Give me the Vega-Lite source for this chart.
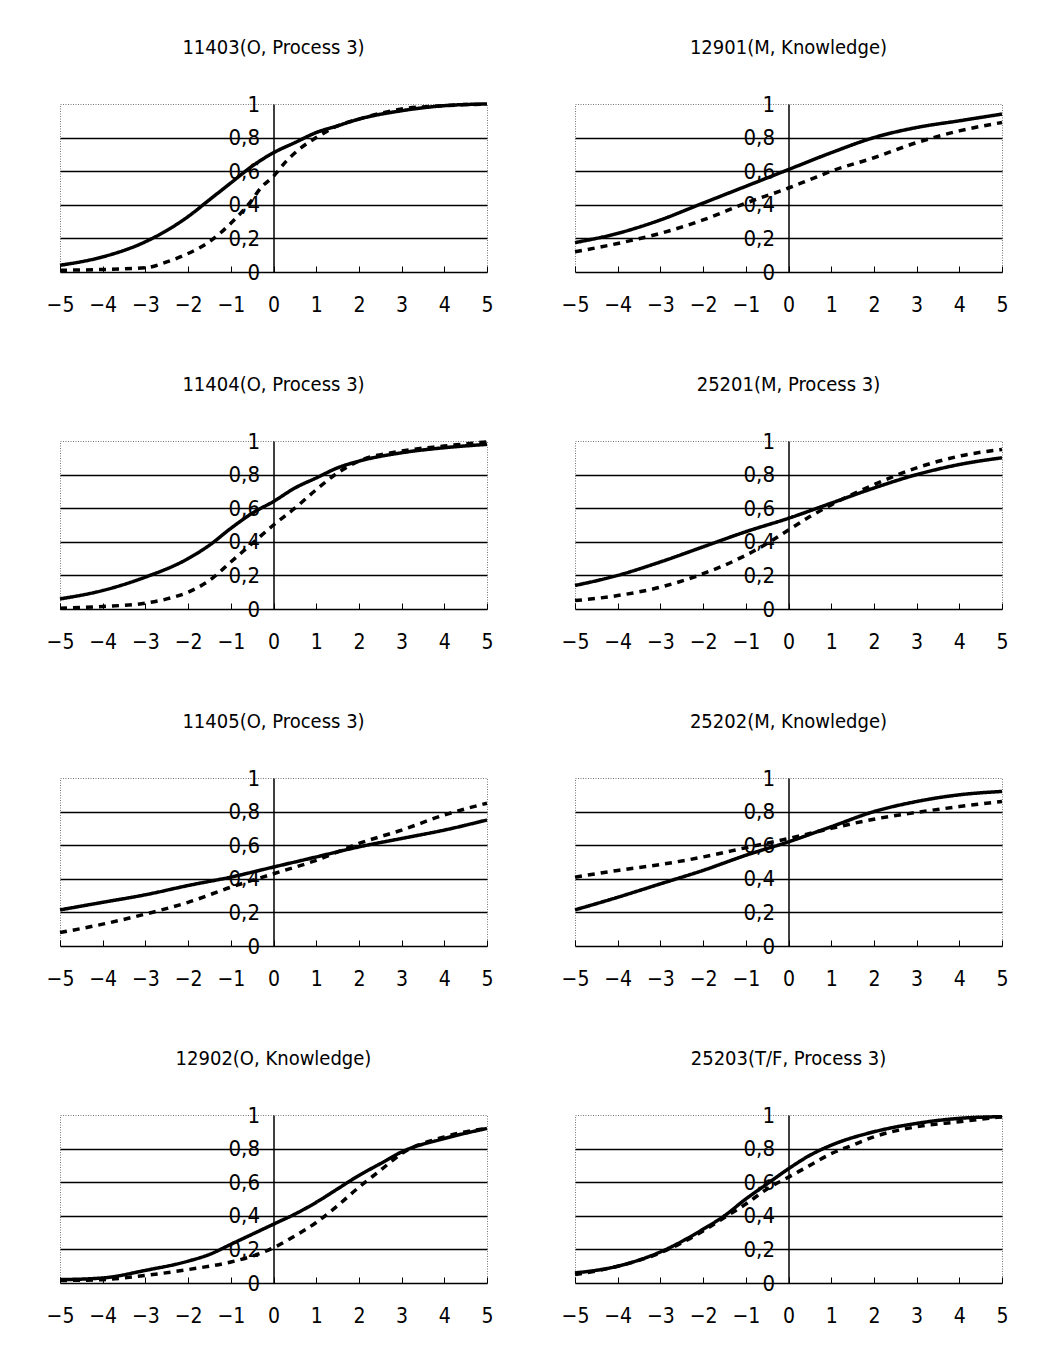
{
  "$schema": "https://vega.github.io/schema/vega-lite/v6.json",
  "background": "white",
  "padding": {"left": 45, "top": 37, "right": 20, "bottom": 20},
  "data": {"values": [
    {"p":"11403(O, Process 3)","s":"solid","x":-5,"y":0.04},{"p":"11403(O, Process 3)","s":"solid","x":-4,"y":0.09},{"p":"11403(O, Process 3)","s":"solid","x":-3,"y":0.18},{"p":"11403(O, Process 3)","s":"solid","x":-2,"y":0.33},{"p":"11403(O, Process 3)","s":"solid","x":-1.5,"y":0.43},{"p":"11403(O, Process 3)","s":"solid","x":-1,"y":0.53},{"p":"11403(O, Process 3)","s":"solid","x":-0.5,"y":0.63},{"p":"11403(O, Process 3)","s":"solid","x":0,"y":0.71},{"p":"11403(O, Process 3)","s":"solid","x":0.5,"y":0.77},{"p":"11403(O, Process 3)","s":"solid","x":1,"y":0.83},{"p":"11403(O, Process 3)","s":"solid","x":1.5,"y":0.87},{"p":"11403(O, Process 3)","s":"solid","x":2,"y":0.91},{"p":"11403(O, Process 3)","s":"solid","x":3,"y":0.96},{"p":"11403(O, Process 3)","s":"solid","x":4,"y":0.99},{"p":"11403(O, Process 3)","s":"solid","x":5,"y":1.0},
    {"p":"11403(O, Process 3)","s":"dashed","x":-5,"y":0.01},{"p":"11403(O, Process 3)","s":"dashed","x":-4,"y":0.015},{"p":"11403(O, Process 3)","s":"dashed","x":-3,"y":0.025},{"p":"11403(O, Process 3)","s":"dashed","x":-2.5,"y":0.06},{"p":"11403(O, Process 3)","s":"dashed","x":-2,"y":0.11},{"p":"11403(O, Process 3)","s":"dashed","x":-1.5,"y":0.18},{"p":"11403(O, Process 3)","s":"dashed","x":-1,"y":0.29},{"p":"11403(O, Process 3)","s":"dashed","x":-0.5,"y":0.43},{"p":"11403(O, Process 3)","s":"dashed","x":-0.3,"y":0.5},{"p":"11403(O, Process 3)","s":"dashed","x":0,"y":0.57},{"p":"11403(O, Process 3)","s":"dashed","x":0.3,"y":0.66},{"p":"11403(O, Process 3)","s":"dashed","x":0.6,"y":0.73},{"p":"11403(O, Process 3)","s":"dashed","x":1,"y":0.8},{"p":"11403(O, Process 3)","s":"dashed","x":1.5,"y":0.87},{"p":"11403(O, Process 3)","s":"dashed","x":2,"y":0.91},{"p":"11403(O, Process 3)","s":"dashed","x":3,"y":0.97},{"p":"11403(O, Process 3)","s":"dashed","x":4,"y":0.99},{"p":"11403(O, Process 3)","s":"dashed","x":5,"y":1.0},

    {"p":"12901(M, Knowledge)","s":"solid","x":-5,"y":0.175},{"p":"12901(M, Knowledge)","s":"solid","x":-4,"y":0.23},{"p":"12901(M, Knowledge)","s":"solid","x":-3,"y":0.31},{"p":"12901(M, Knowledge)","s":"solid","x":-2,"y":0.41},{"p":"12901(M, Knowledge)","s":"solid","x":-1,"y":0.51},{"p":"12901(M, Knowledge)","s":"solid","x":0,"y":0.61},{"p":"12901(M, Knowledge)","s":"solid","x":1,"y":0.71},{"p":"12901(M, Knowledge)","s":"solid","x":2,"y":0.8},{"p":"12901(M, Knowledge)","s":"solid","x":3,"y":0.86},{"p":"12901(M, Knowledge)","s":"solid","x":4,"y":0.9},{"p":"12901(M, Knowledge)","s":"solid","x":5,"y":0.94},
    {"p":"12901(M, Knowledge)","s":"dashed","x":-5,"y":0.12},{"p":"12901(M, Knowledge)","s":"dashed","x":-4,"y":0.17},{"p":"12901(M, Knowledge)","s":"dashed","x":-3,"y":0.23},{"p":"12901(M, Knowledge)","s":"dashed","x":-2,"y":0.31},{"p":"12901(M, Knowledge)","s":"dashed","x":-1,"y":0.41},{"p":"12901(M, Knowledge)","s":"dashed","x":0,"y":0.5},{"p":"12901(M, Knowledge)","s":"dashed","x":0.5,"y":0.55},{"p":"12901(M, Knowledge)","s":"dashed","x":1,"y":0.6},{"p":"12901(M, Knowledge)","s":"dashed","x":2,"y":0.68},{"p":"12901(M, Knowledge)","s":"dashed","x":3,"y":0.77},{"p":"12901(M, Knowledge)","s":"dashed","x":4,"y":0.84},{"p":"12901(M, Knowledge)","s":"dashed","x":5,"y":0.89},

    {"p":"11404(O, Process 3)","s":"solid","x":-5,"y":0.06},{"p":"11404(O, Process 3)","s":"solid","x":-4,"y":0.11},{"p":"11404(O, Process 3)","s":"solid","x":-3,"y":0.19},{"p":"11404(O, Process 3)","s":"solid","x":-2,"y":0.3},{"p":"11404(O, Process 3)","s":"solid","x":-1.5,"y":0.38},{"p":"11404(O, Process 3)","s":"solid","x":-1,"y":0.48},{"p":"11404(O, Process 3)","s":"solid","x":-0.5,"y":0.57},{"p":"11404(O, Process 3)","s":"solid","x":0,"y":0.64},{"p":"11404(O, Process 3)","s":"solid","x":0.5,"y":0.72},{"p":"11404(O, Process 3)","s":"solid","x":1,"y":0.78},{"p":"11404(O, Process 3)","s":"solid","x":1.5,"y":0.84},{"p":"11404(O, Process 3)","s":"solid","x":2,"y":0.88},{"p":"11404(O, Process 3)","s":"solid","x":3,"y":0.93},{"p":"11404(O, Process 3)","s":"solid","x":4,"y":0.96},{"p":"11404(O, Process 3)","s":"solid","x":5,"y":0.98},
    {"p":"11404(O, Process 3)","s":"dashed","x":-5,"y":0.005},{"p":"11404(O, Process 3)","s":"dashed","x":-4,"y":0.015},{"p":"11404(O, Process 3)","s":"dashed","x":-3,"y":0.035},{"p":"11404(O, Process 3)","s":"dashed","x":-2.5,"y":0.06},{"p":"11404(O, Process 3)","s":"dashed","x":-2,"y":0.1},{"p":"11404(O, Process 3)","s":"dashed","x":-1.5,"y":0.17},{"p":"11404(O, Process 3)","s":"dashed","x":-1,"y":0.28},{"p":"11404(O, Process 3)","s":"dashed","x":-0.5,"y":0.39},{"p":"11404(O, Process 3)","s":"dashed","x":0,"y":0.5},{"p":"11404(O, Process 3)","s":"dashed","x":0.5,"y":0.6},{"p":"11404(O, Process 3)","s":"dashed","x":1,"y":0.71},{"p":"11404(O, Process 3)","s":"dashed","x":1.5,"y":0.81},{"p":"11404(O, Process 3)","s":"dashed","x":2,"y":0.88},{"p":"11404(O, Process 3)","s":"dashed","x":3,"y":0.94},{"p":"11404(O, Process 3)","s":"dashed","x":4,"y":0.97},{"p":"11404(O, Process 3)","s":"dashed","x":5,"y":0.995},

    {"p":"25201(M, Process 3)","s":"solid","x":-5,"y":0.14},{"p":"25201(M, Process 3)","s":"solid","x":-4,"y":0.2},{"p":"25201(M, Process 3)","s":"solid","x":-3,"y":0.28},{"p":"25201(M, Process 3)","s":"solid","x":-2,"y":0.37},{"p":"25201(M, Process 3)","s":"solid","x":-1,"y":0.46},{"p":"25201(M, Process 3)","s":"solid","x":0,"y":0.54},{"p":"25201(M, Process 3)","s":"solid","x":1,"y":0.63},{"p":"25201(M, Process 3)","s":"solid","x":2,"y":0.72},{"p":"25201(M, Process 3)","s":"solid","x":3,"y":0.8},{"p":"25201(M, Process 3)","s":"solid","x":4,"y":0.86},{"p":"25201(M, Process 3)","s":"solid","x":5,"y":0.9},
    {"p":"25201(M, Process 3)","s":"dashed","x":-5,"y":0.05},{"p":"25201(M, Process 3)","s":"dashed","x":-4,"y":0.08},{"p":"25201(M, Process 3)","s":"dashed","x":-3,"y":0.13},{"p":"25201(M, Process 3)","s":"dashed","x":-2,"y":0.21},{"p":"25201(M, Process 3)","s":"dashed","x":-1,"y":0.32},{"p":"25201(M, Process 3)","s":"dashed","x":-0.5,"y":0.39},{"p":"25201(M, Process 3)","s":"dashed","x":0,"y":0.47},{"p":"25201(M, Process 3)","s":"dashed","x":0.5,"y":0.55},{"p":"25201(M, Process 3)","s":"dashed","x":1,"y":0.62},{"p":"25201(M, Process 3)","s":"dashed","x":2,"y":0.74},{"p":"25201(M, Process 3)","s":"dashed","x":3,"y":0.84},{"p":"25201(M, Process 3)","s":"dashed","x":4,"y":0.91},{"p":"25201(M, Process 3)","s":"dashed","x":5,"y":0.95},

    {"p":"11405(O, Process 3)","s":"solid","x":-5,"y":0.215},{"p":"11405(O, Process 3)","s":"solid","x":-4,"y":0.26},{"p":"11405(O, Process 3)","s":"solid","x":-3,"y":0.305},{"p":"11405(O, Process 3)","s":"solid","x":-2,"y":0.36},{"p":"11405(O, Process 3)","s":"solid","x":-1,"y":0.41},{"p":"11405(O, Process 3)","s":"solid","x":0,"y":0.47},{"p":"11405(O, Process 3)","s":"solid","x":1,"y":0.53},{"p":"11405(O, Process 3)","s":"solid","x":2,"y":0.59},{"p":"11405(O, Process 3)","s":"solid","x":3,"y":0.64},{"p":"11405(O, Process 3)","s":"solid","x":4,"y":0.69},{"p":"11405(O, Process 3)","s":"solid","x":5,"y":0.75},
    {"p":"11405(O, Process 3)","s":"dashed","x":-5,"y":0.08},{"p":"11405(O, Process 3)","s":"dashed","x":-4,"y":0.13},{"p":"11405(O, Process 3)","s":"dashed","x":-3,"y":0.19},{"p":"11405(O, Process 3)","s":"dashed","x":-2,"y":0.26},{"p":"11405(O, Process 3)","s":"dashed","x":-1,"y":0.35},{"p":"11405(O, Process 3)","s":"dashed","x":0,"y":0.43},{"p":"11405(O, Process 3)","s":"dashed","x":1,"y":0.51},{"p":"11405(O, Process 3)","s":"dashed","x":2,"y":0.61},{"p":"11405(O, Process 3)","s":"dashed","x":3,"y":0.69},{"p":"11405(O, Process 3)","s":"dashed","x":4,"y":0.78},{"p":"11405(O, Process 3)","s":"dashed","x":5,"y":0.85},

    {"p":"25202(M, Knowledge)","s":"solid","x":-5,"y":0.215},{"p":"25202(M, Knowledge)","s":"solid","x":-4,"y":0.29},{"p":"25202(M, Knowledge)","s":"solid","x":-3,"y":0.37},{"p":"25202(M, Knowledge)","s":"solid","x":-2,"y":0.45},{"p":"25202(M, Knowledge)","s":"solid","x":-1,"y":0.54},{"p":"25202(M, Knowledge)","s":"solid","x":0,"y":0.62},{"p":"25202(M, Knowledge)","s":"solid","x":1,"y":0.71},{"p":"25202(M, Knowledge)","s":"solid","x":2,"y":0.8},{"p":"25202(M, Knowledge)","s":"solid","x":3,"y":0.86},{"p":"25202(M, Knowledge)","s":"solid","x":4,"y":0.9},{"p":"25202(M, Knowledge)","s":"solid","x":5,"y":0.92},
    {"p":"25202(M, Knowledge)","s":"dashed","x":-5,"y":0.41},{"p":"25202(M, Knowledge)","s":"dashed","x":-4,"y":0.45},{"p":"25202(M, Knowledge)","s":"dashed","x":-3,"y":0.485},{"p":"25202(M, Knowledge)","s":"dashed","x":-2,"y":0.53},{"p":"25202(M, Knowledge)","s":"dashed","x":-1,"y":0.585},{"p":"25202(M, Knowledge)","s":"dashed","x":0,"y":0.64},{"p":"25202(M, Knowledge)","s":"dashed","x":1,"y":0.7},{"p":"25202(M, Knowledge)","s":"dashed","x":2,"y":0.755},{"p":"25202(M, Knowledge)","s":"dashed","x":3,"y":0.795},{"p":"25202(M, Knowledge)","s":"dashed","x":4,"y":0.83},{"p":"25202(M, Knowledge)","s":"dashed","x":5,"y":0.86},

    {"p":"12902(O, Knowledge)","s":"solid","x":-5,"y":0.02},{"p":"12902(O, Knowledge)","s":"solid","x":-4,"y":0.03},{"p":"12902(O, Knowledge)","s":"solid","x":-3,"y":0.075},{"p":"12902(O, Knowledge)","s":"solid","x":-2,"y":0.13},{"p":"12902(O, Knowledge)","s":"solid","x":-1.5,"y":0.17},{"p":"12902(O, Knowledge)","s":"solid","x":-1,"y":0.23},{"p":"12902(O, Knowledge)","s":"solid","x":-0.5,"y":0.29},{"p":"12902(O, Knowledge)","s":"solid","x":0,"y":0.35},{"p":"12902(O, Knowledge)","s":"solid","x":0.5,"y":0.41},{"p":"12902(O, Knowledge)","s":"solid","x":1,"y":0.48},{"p":"12902(O, Knowledge)","s":"solid","x":1.5,"y":0.56},{"p":"12902(O, Knowledge)","s":"solid","x":2,"y":0.64},{"p":"12902(O, Knowledge)","s":"solid","x":2.5,"y":0.71},{"p":"12902(O, Knowledge)","s":"solid","x":3,"y":0.78},{"p":"12902(O, Knowledge)","s":"solid","x":4,"y":0.86},{"p":"12902(O, Knowledge)","s":"solid","x":5,"y":0.92},
    {"p":"12902(O, Knowledge)","s":"dashed","x":-5,"y":0.015},{"p":"12902(O, Knowledge)","s":"dashed","x":-4,"y":0.02},{"p":"12902(O, Knowledge)","s":"dashed","x":-3,"y":0.045},{"p":"12902(O, Knowledge)","s":"dashed","x":-2,"y":0.08},{"p":"12902(O, Knowledge)","s":"dashed","x":-1,"y":0.125},{"p":"12902(O, Knowledge)","s":"dashed","x":-0.5,"y":0.16},{"p":"12902(O, Knowledge)","s":"dashed","x":0,"y":0.21},{"p":"12902(O, Knowledge)","s":"dashed","x":0.5,"y":0.28},{"p":"12902(O, Knowledge)","s":"dashed","x":1,"y":0.36},{"p":"12902(O, Knowledge)","s":"dashed","x":1.5,"y":0.46},{"p":"12902(O, Knowledge)","s":"dashed","x":2,"y":0.57},{"p":"12902(O, Knowledge)","s":"dashed","x":2.5,"y":0.67},{"p":"12902(O, Knowledge)","s":"dashed","x":3,"y":0.77},{"p":"12902(O, Knowledge)","s":"dashed","x":4,"y":0.87},{"p":"12902(O, Knowledge)","s":"dashed","x":5,"y":0.92},

    {"p":"25203(T/F, Process 3)","s":"solid","x":-5,"y":0.06},{"p":"25203(T/F, Process 3)","s":"solid","x":-4,"y":0.1},{"p":"25203(T/F, Process 3)","s":"solid","x":-3,"y":0.185},{"p":"25203(T/F, Process 3)","s":"solid","x":-2,"y":0.32},{"p":"25203(T/F, Process 3)","s":"solid","x":-1.5,"y":0.4},{"p":"25203(T/F, Process 3)","s":"solid","x":-1,"y":0.5},{"p":"25203(T/F, Process 3)","s":"solid","x":-0.5,"y":0.59},{"p":"25203(T/F, Process 3)","s":"solid","x":0,"y":0.68},{"p":"25203(T/F, Process 3)","s":"solid","x":0.5,"y":0.76},{"p":"25203(T/F, Process 3)","s":"solid","x":1,"y":0.82},{"p":"25203(T/F, Process 3)","s":"solid","x":2,"y":0.9},{"p":"25203(T/F, Process 3)","s":"solid","x":3,"y":0.95},{"p":"25203(T/F, Process 3)","s":"solid","x":4,"y":0.98},{"p":"25203(T/F, Process 3)","s":"solid","x":5,"y":0.99},
    {"p":"25203(T/F, Process 3)","s":"dashed","x":-5,"y":0.05},{"p":"25203(T/F, Process 3)","s":"dashed","x":-4,"y":0.1},{"p":"25203(T/F, Process 3)","s":"dashed","x":-3,"y":0.18},{"p":"25203(T/F, Process 3)","s":"dashed","x":-2,"y":0.31},{"p":"25203(T/F, Process 3)","s":"dashed","x":-1.5,"y":0.39},{"p":"25203(T/F, Process 3)","s":"dashed","x":-1,"y":0.47},{"p":"25203(T/F, Process 3)","s":"dashed","x":-0.5,"y":0.56},{"p":"25203(T/F, Process 3)","s":"dashed","x":0,"y":0.63},{"p":"25203(T/F, Process 3)","s":"dashed","x":0.5,"y":0.7},{"p":"25203(T/F, Process 3)","s":"dashed","x":1,"y":0.77},{"p":"25203(T/F, Process 3)","s":"dashed","x":1.5,"y":0.82},{"p":"25203(T/F, Process 3)","s":"dashed","x":2,"y":0.87},{"p":"25203(T/F, Process 3)","s":"dashed","x":3,"y":0.93},{"p":"25203(T/F, Process 3)","s":"dashed","x":4,"y":0.96},{"p":"25203(T/F, Process 3)","s":"dashed","x":5,"y":0.99}
  ]},
  "facet": {
    "field": "p",
    "type": "nominal",
    "sort": ["11403(O, Process 3)", "12901(M, Knowledge)", "11404(O, Process 3)", "25201(M, Process 3)", "11405(O, Process 3)", "25202(M, Knowledge)", "12902(O, Knowledge)", "25203(T/F, Process 3)"],
    "header": {"title": null, "labelFont": "Liberation Sans Narrow, DejaVu Sans Condensed, sans-serif", "labelFontSize": 20, "labelColor": "black", "labelPadding": 35}
  },
  "columns": 2,
  "spacing": {"row": 58, "column": 65},
  "resolve": {"axis": {"x": "independent", "y": "independent"}},
  "spec": {
    "width": 427,
    "height": 168,
    "mark": {"type": "line", "interpolate": "monotone", "color": "black", "strokeWidth": 3.5},
    "encoding": {
      "x": {
        "field": "x", "type": "quantitative",
        "scale": {"domain": [-5, 5], "nice": false, "zero": false},
        "axis": {
          "values": [-5, -4, -3, -2, -1, 0, 1, 2, 3, 4, 5],
          "title": null, "grid": false,
          "domainColor": "black", "domainWidth": 1.5,
          "tickColor": "black", "tickWidth": 1, "tickSize": -6,
          "labelPadding": 28, "labelColor": "black",
          "labelFont": "Liberation Sans Narrow, DejaVu Sans Condensed, sans-serif", "labelFontSize": 21,
          "labelFlush": false, "labelOverlap": false,
          "labelExpr": "datum.value < 0 ? '−' + abs(datum.value) : datum.label"
        }
      },
      "y": {
        "field": "y", "type": "quantitative",
        "scale": {"domain": [0, 1], "nice": false, "zero": false},
        "axis": {
          "values": [0, 0.2, 0.4, 0.6, 0.8, 1],
          "title": null, "offset": -213.5,
          "domainColor": "black", "domainWidth": 1.5,
          "ticks": false, "tickSize": 0,
          "labelPadding": 14, "labelAlign": "right", "labelBaseline": "middle",
          "labelColor": "black",
          "labelFont": "Liberation Sans Narrow, DejaVu Sans Condensed, sans-serif", "labelFontSize": 22,
          "labelFlush": false, "labelOverlap": false,
          "labelExpr": "replace(format(datum.value, '.1~f'), '.', ',')",
          "grid": true, "gridColor": "black", "gridWidth": 1.5,
          "gridOpacity": {"condition": {"test": "datum.value == 0 || datum.value == 1", "value": 0}, "value": 1}
        }
      },
      "strokeDash": {
        "field": "s", "type": "nominal",
        "scale": {"domain": ["solid", "dashed"], "range": [[1, 0], [7, 6]]},
        "legend": null
      }
    }
  },
  "config": {
    "view": {"stroke": "#777777", "strokeDash": [1, 1.5], "strokeWidth": 1}
  }
}
